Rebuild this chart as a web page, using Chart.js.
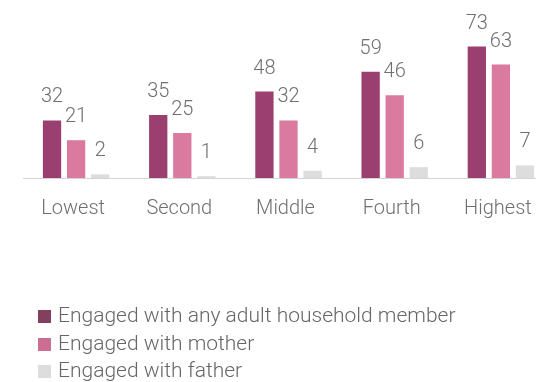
<!DOCTYPE html>
<html>
<head>
<meta charset="utf-8">
<script src="https://cdn.jsdelivr.net/npm/chart.js@4.4.0/dist/chart.umd.min.js"></script>
<style>
  html, body { margin: 0; padding: 0; background: #fff; overflow: hidden; }
  #wrap { position: relative; width: 560px; height: 382px; }
  #legend { position: absolute; left: 38px; top: 302px; font-family: Roboto, sans-serif; font-weight: 300; font-size: 21px; color: #666; }
  #legend div { height: 27.5px; line-height: 27.5px; white-space: nowrap; }
  #legend span { display: inline-block; width: 13px; height: 13px; margin-right: 7px; vertical-align: -1px; }
</style>
</head>
<body>
<div id="wrap">
  <canvas id="quintileChart" width="560" height="382"></canvas>
  <div id="legend"></div>
</div>
<script>
const quintiles = ['Lowest', 'Second', 'Middle', 'Fourth', 'Highest'];
const anyAdult = [32, 35, 48, 59, 73];
const mother = [21, 25, 32, 46, 63];
const father = [2, 1, 4, 6, 7];
const seriesNames = ['Engaged with any adult household member', 'Engaged with mother', 'Engaged with father'];
const seriesColors = ['#9a3f70', '#d97a9e', '#dddddd'];
const legendColors = ['#823f5f', '#cc6d92', '#dddddd'];

// value printed above each bar
const barValues = {
    id: 'barValues',
    afterDatasetsDraw(chart) {
        const ctx = chart.ctx;
        ctx.save();
        ctx.font = '300 20px Roboto';
        ctx.fillStyle = '#6f6f6f';
        ctx.textAlign = 'center';
        ctx.textBaseline = 'alphabetic';
        chart.data.datasets.forEach((ds, i) => {
            chart.getDatasetMeta(i).data.forEach((bar, j) => {
                ctx.fillText(ds.data[j], bar.x, bar.y - 18);
            });
        });
        ctx.restore();
    }
};

const chart = new Chart(document.getElementById('quintileChart'), {
    type: 'bar',
    data: {
        labels: quintiles,
        datasets: [
            { label: seriesNames[0], data: anyAdult, backgroundColor: seriesColors[0] },
            { label: seriesNames[1], data: mother, backgroundColor: seriesColors[1] },
            { label: seriesNames[2], data: father, backgroundColor: seriesColors[2] }
        ]
    },
    options: {
        responsive: false,
        animation: false,
        layout: { padding: { left: 23, right: 6, top: 34, bottom: 142 } },
        datasets: { bar: { categoryPercentage: 0.68, barPercentage: 0.76 } },
        plugins: {
            legend: { display: false },
            tooltip: { enabled: false }
        },
        scales: {
            x: {
                grid: { display: false, drawTicks: false },
                border: { display: true, color: '#d4d4d4', width: 1 },
                ticks: { padding: 19, labelOffset: -3, color: '#6f6f6f', font: { family: 'Roboto', size: 20, weight: 300 } }
            },
            y: {
                display: false,
                min: 0,
                max: 80
            }
        }
    },
    plugins: [barValues]
});

// legend stacked one item per line
const legendEl = document.getElementById('legend');
seriesNames.forEach((name, i) => {
    const row = document.createElement('div');
    const box = document.createElement('span');
    box.style.background = legendColors[i];
    row.appendChild(box);
    row.appendChild(document.createTextNode(name));
    legendEl.appendChild(row);
});
</script>
</body>
</html>
